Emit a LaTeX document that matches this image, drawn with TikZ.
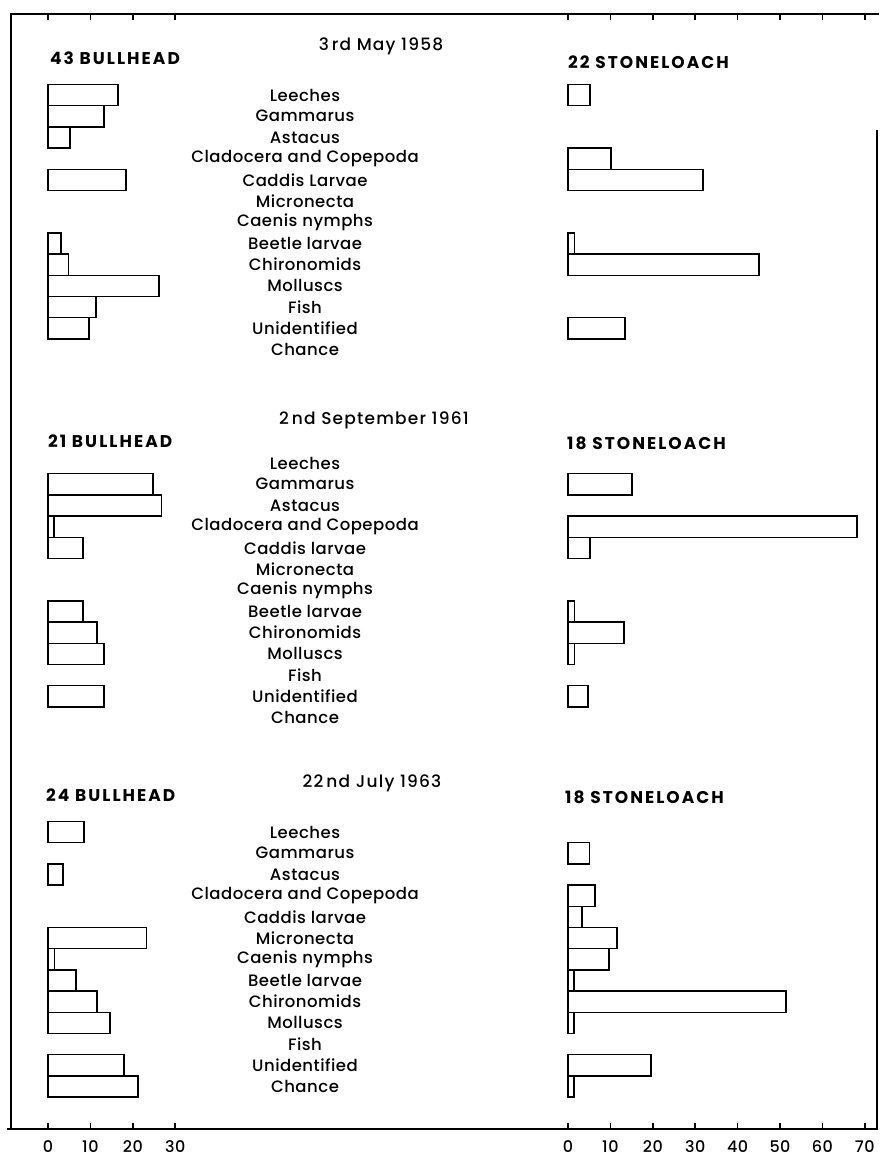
\documentclass[tikz,border=0pt]{standalone}
\usepackage{fontspec}
\setmainfont{Poppins}
\newfontfamily\labelfont{Poppins Medium}[LetterSpace=3]
\newfontfamily\datefont{Poppins Medium}[LetterSpace=7]
\newfontfamily\spacedfont{Poppins}[LetterSpace=12]

\tikzset{
  bar/.style={draw,line width=1.4pt},
  frame/.style={line width=1.6pt},
  food/.style={font=\labelfont\fontsize{16.5}{16.5}\selectfont,inner sep=0pt},
  fishname/.style={font=\spacedfont\fontsize{17}{17}\selectfont\bfseries,anchor=west,inner sep=0pt},
  datelabel/.style={font=\datefont\fontsize{17}{17}\selectfont,inner sep=0pt},
  ticklabel/.style={font=\labelfont\fontsize{16}{16}\selectfont,inner sep=0pt}
}

% #1 name prefix, #2 y of first row, #3 caddis text
\newcommand{\foodcolumn}[3]{
  \foreach \name [count=\i from 0] in {Leeches,Gammarus,Astacus,Cladocera and Copepoda,#3,Micronecta,Caenis nymphs,Beetle larvae,Chironomids,Molluscs,Fish,Unidentified,Chance}
    \node[food] (#1-\i) at (305,{#2+21.2*\i}) {\name};
}
% #1 zero x, #2 y of first row, #3 row/value list
\newcommand{\barset}[3]{
  \foreach \r/\v in {#3}
    \draw[bar] (#1,{#2+21.2*\r-10.6}) rectangle ++({4.24*\v},21.2);
}

\begin{document}
\begin{tikzpicture}[x=1pt,y=-1pt]
\useasboundingbox (0,0) rectangle (879,1157);

\coordinate (tl) at (11,14);
\coordinate (tr) at (879,14);
\coordinate (bl) at (11,1129);
\coordinate (br) at (877,1129);
\coordinate (rt) at (877,130);
\draw[frame] (tr) -- (tl) -- (bl) -- (br) -- (rt);
\draw[frame] (bl) -- ++(-4,0);

\foreach \v in {0,10,20,30} {
  \draw[frame] ({48+4.24*\v},14) -- ++(0,6);
  \draw[frame] ({48+4.24*\v},1129) -- ++(0,-6);
  \node[ticklabel] (lt\v) at ({48+4.24*\v},1147) {\v};
}
\foreach \v in {0,10,...,70} {
  \draw[frame] ({568+4.24*\v},14) -- ++(0,6);
  \draw[frame] ({568+4.24*\v},1129) -- ++(0,-6);
  \node[ticklabel] (rt\v) at ({568+4.24*\v},1147) {\v};
}

\node[datelabel] (date1) at (381,46) {3\hspace{3pt}rd May 1958};
\node[fishname] (bull1) at (50,58) {43 BULLHEAD};
\node[fishname] (loach1) at (568,62) {22 STONELOACH};
\foodcolumn{may}{95}{Caddis Larvae}
\barset{48}{95}{0/16.5,1/13.2,2/5.2,4/18.4,7/3.1,8/4.9,9/26.2,10/11.3,11/9.7}
\barset{568}{95}{0/5.2,3/10.1,4/31.8,7/1.6,8/45,11/13.4}

\node[datelabel] (date2) at (374,420) {2\hspace{3pt}nd September 1961};
\node[fishname] (bull2) at (48,441) {21 BULLHEAD};
\node[fishname] (loach2) at (567,443) {18 STONELOACH};
\foodcolumn{sep}{463}{Caddis larvae}
\barset{48}{463}{1/24.8,2/26.7,3/1.4,4/8.3,7/8.3,8/11.6,9/13.2,11/13.2}
\barset{568}{463}{1/15.1,3/68.2,4/5.2,7/1.6,8/13.2,9/1.6,11/4.7}

\node[datelabel] (date3) at (372,783) {22\hspace{3pt}nd July 1963};
\node[fishname] (bull3) at (46,795) {24 BULLHEAD};
\node[fishname] (loach3) at (565,797) {18 STONELOACH};
\foodcolumn{jul}{832}{Caddis larvae}
\barset{48}{832}{0/8.5,2/3.5,5/23.3,6/1.6,7/6.6,8/11.6,9/14.6,11/17.9,12/21.2}
\barset{568}{832}{1/5,3/6.4,4/3.3,5/11.6,6/9.7,7/1.4,8/51.4,9/1.4,11/19.6,12/1.4}
\end{tikzpicture}
\end{document}
